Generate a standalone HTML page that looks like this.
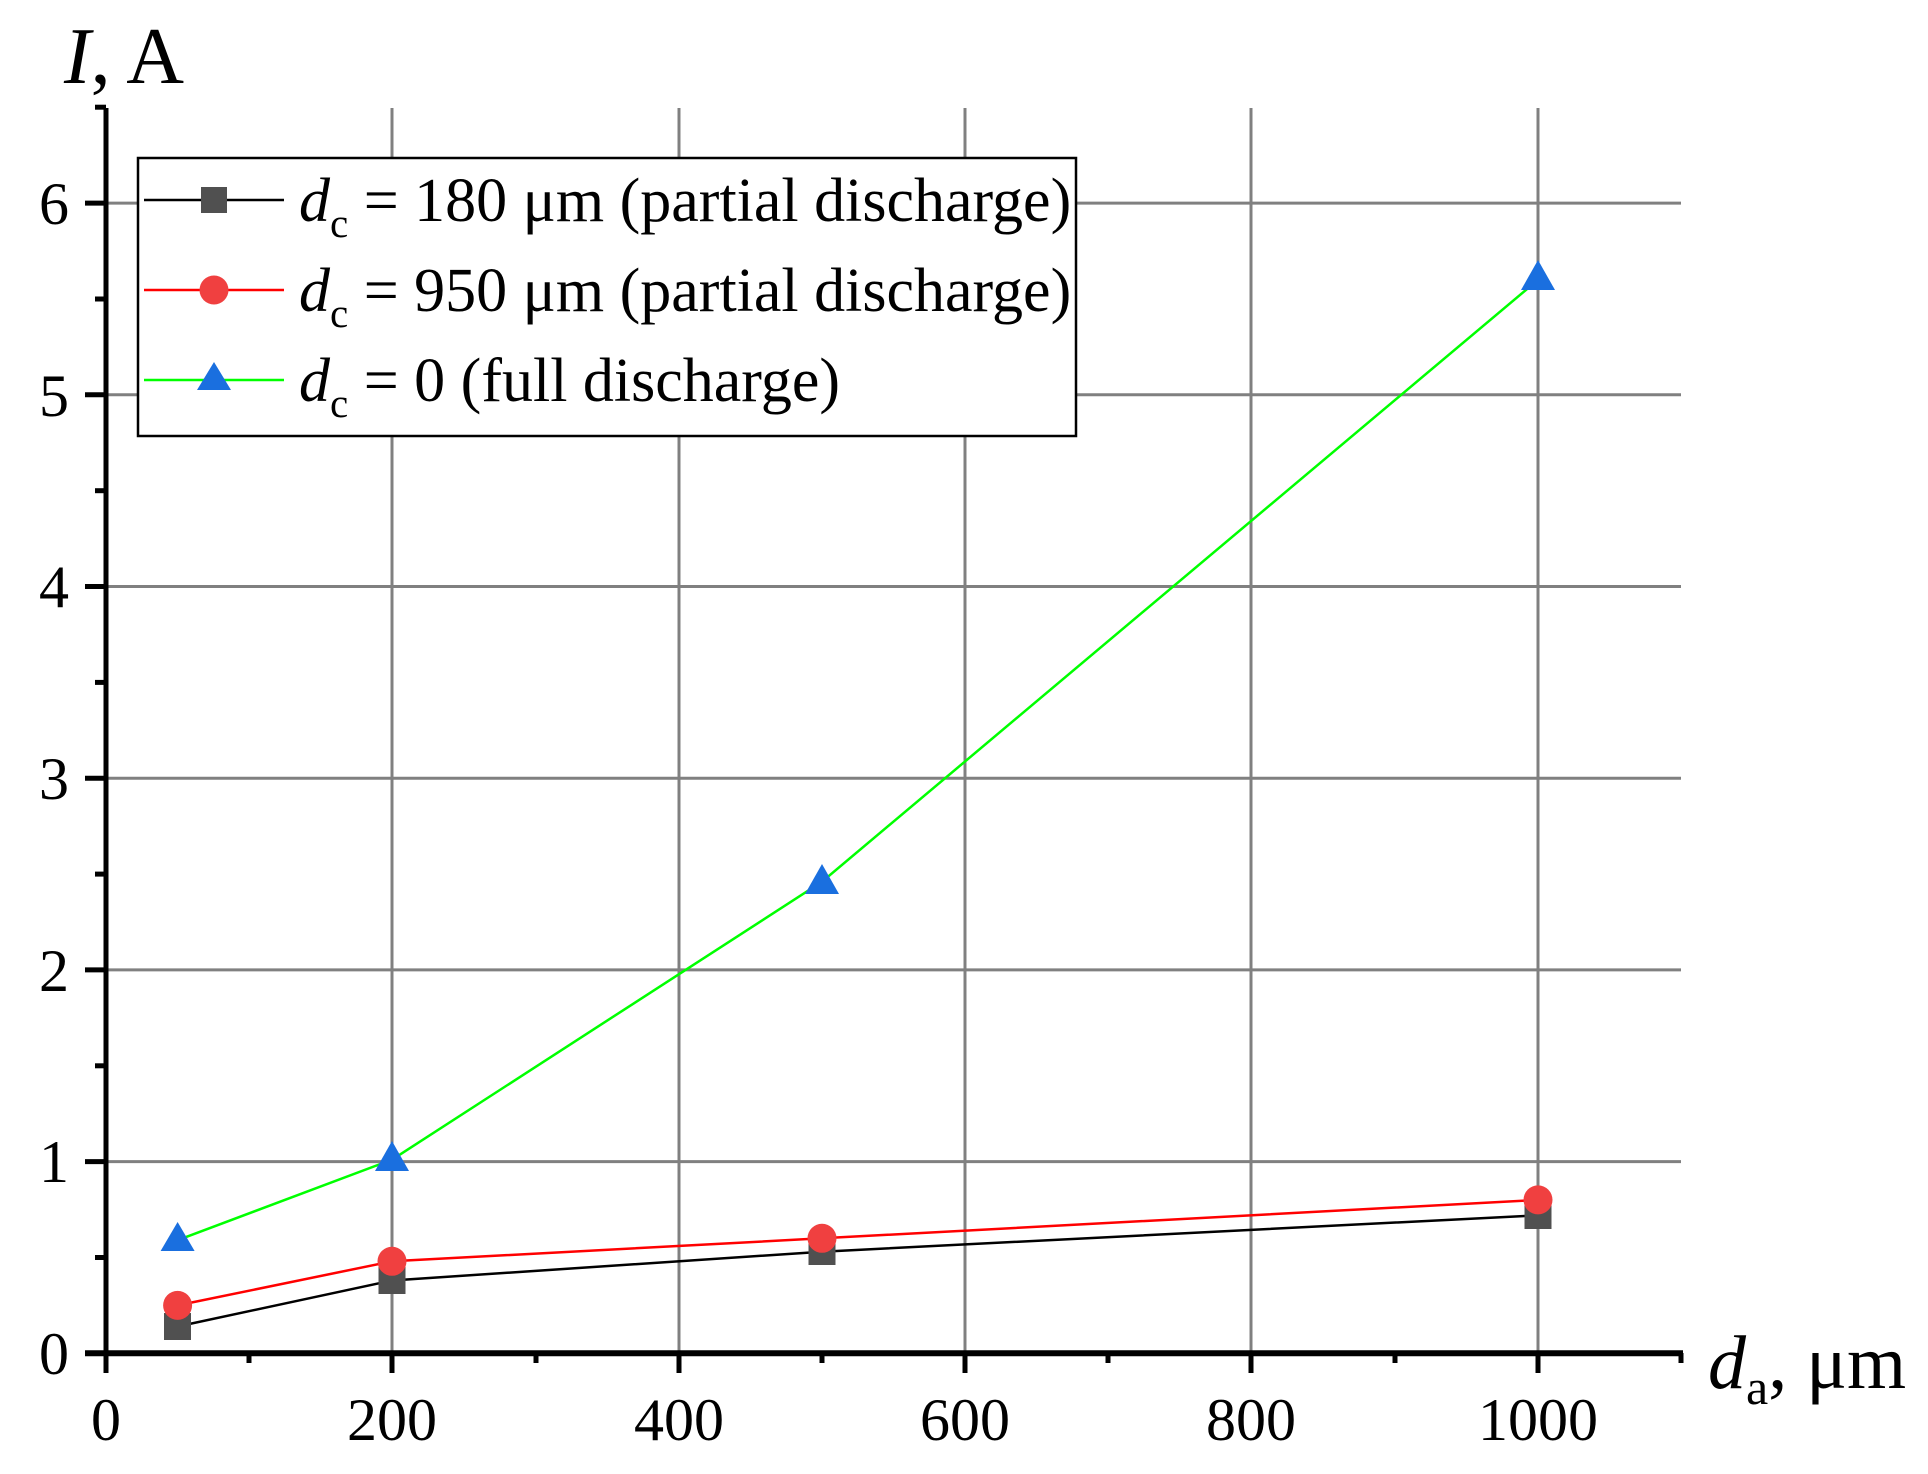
<!DOCTYPE html>
<html><head><meta charset="utf-8"><style>
html,body{margin:0;padding:0;background:#fff;}
svg{display:block;}
text{font-family:"Liberation Serif",serif;fill:#000;}
</style></head><body>
<svg width="1928" height="1474" viewBox="0 0 1928 1474" xmlns="http://www.w3.org/2000/svg">
<g stroke="#808080" stroke-width="3">
<line x1="392" y1="108" x2="392" y2="1353"/>
<line x1="679" y1="108" x2="679" y2="1353"/>
<line x1="965" y1="108" x2="965" y2="1353"/>
<line x1="1251" y1="108" x2="1251" y2="1353"/>
<line x1="1538" y1="108" x2="1538" y2="1353"/>
<line x1="106" y1="1161.6" x2="1681" y2="1161.6"/>
<line x1="106" y1="969.9" x2="1681" y2="969.9"/>
<line x1="106" y1="778.2" x2="1681" y2="778.2"/>
<line x1="106" y1="586.5" x2="1681" y2="586.5"/>
<line x1="106" y1="394.8" x2="1681" y2="394.8"/>
<line x1="106" y1="203.1" x2="1681" y2="203.1"/>
</g>
<g stroke="#000">
<line x1="106" y1="108" x2="106" y2="1355" stroke-width="5"/>
<line x1="85" y1="1353.3" x2="1683" y2="1353.3" stroke-width="6"/>
<g stroke-width="5">
<line x1="106" y1="1353" x2="106" y2="1373"/>
<line x1="392" y1="1353" x2="392" y2="1373"/>
<line x1="679" y1="1353" x2="679" y2="1373"/>
<line x1="965" y1="1353" x2="965" y2="1373"/>
<line x1="1251" y1="1353" x2="1251" y2="1373"/>
<line x1="1538" y1="1353" x2="1538" y2="1373"/>
<line x1="249" y1="1353" x2="249" y2="1363"/>
<line x1="536" y1="1353" x2="536" y2="1363"/>
<line x1="822" y1="1353" x2="822" y2="1363"/>
<line x1="1108" y1="1353" x2="1108" y2="1363"/>
<line x1="1395" y1="1353" x2="1395" y2="1363"/>
<line x1="1681" y1="1353" x2="1681" y2="1363"/>
<line x1="85" y1="1161.6" x2="106" y2="1161.6"/>
<line x1="85" y1="969.9" x2="106" y2="969.9"/>
<line x1="85" y1="778.2" x2="106" y2="778.2"/>
<line x1="85" y1="586.5" x2="106" y2="586.5"/>
<line x1="85" y1="394.8" x2="106" y2="394.8"/>
<line x1="85" y1="203.1" x2="106" y2="203.1"/>
<line x1="95" y1="1257.5" x2="106" y2="1257.5"/>
<line x1="95" y1="1065.8" x2="106" y2="1065.8"/>
<line x1="95" y1="874.1" x2="106" y2="874.1"/>
<line x1="95" y1="682.4" x2="106" y2="682.4"/>
<line x1="95" y1="490.7" x2="106" y2="490.7"/>
<line x1="95" y1="299" x2="106" y2="299"/>
<line x1="95" y1="107.2" x2="106" y2="107.2"/>
</g>
</g>
<g font-size="60" text-anchor="end">
<text x="69" y="1374">0</text>
<text x="69" y="1182">1</text>
<text x="69" y="991">2</text>
<text x="69" y="799">3</text>
<text x="69" y="607">4</text>
<text x="69" y="416">5</text>
<text x="69" y="224">6</text>
</g>
<g font-size="60" text-anchor="middle">
<text x="106" y="1440">0</text>
<text x="392" y="1440">200</text>
<text x="679" y="1440">400</text>
<text x="965" y="1440">600</text>
<text x="1251" y="1440">800</text>
<text x="1538" y="1440">1000</text>
</g>
<text x="64" y="83" font-size="80"><tspan font-style="italic">I</tspan>, A</text>
<text x="1708" y="1388" font-size="76"><tspan font-style="italic">d</tspan><tspan font-size="50" dy="16">a</tspan><tspan dy="-16">, μm</tspan></text>
<polyline points="177.6,1326.5 392,1280.5 822,1251.7 1538,1215.3" fill="none" stroke="#000" stroke-width="2.5"/>
<polyline points="177.6,1305.4 392,1261.3 822,1238.3 1538,1199.9" fill="none" stroke="#f00" stroke-width="2.5"/>
<polyline points="177.6,1240.2 392,1159.7 822,881.7 1538,279.8" fill="none" stroke="#00ff00" stroke-width="2.5"/>
<g fill="#505050">
<rect x="164" y="1313" width="27" height="27"/>
<rect x="378.5" y="1267" width="27" height="27"/>
<rect x="808.5" y="1238" width="27" height="27"/>
<rect x="1524.5" y="1202" width="27" height="27"/>
</g>
<g fill="#f04040">
<circle cx="177.6" cy="1305.4" r="14.5"/>
<circle cx="392" cy="1261.3" r="14.5"/>
<circle cx="822" cy="1238.3" r="14.5"/>
<circle cx="1538" cy="1199.9" r="14.5"/>
</g>
<g fill="#1a6fdf">
<polygon points="177.6,1222 160.6,1251 194.6,1251"/>
<polygon points="392,1141 375,1171 409,1171"/>
<polygon points="822,864 805,894 839,894"/>
<polygon points="1538,260 1521,290 1555,290"/>
</g>
<rect x="138" y="158" width="938" height="278" fill="#fff" stroke="#000" stroke-width="2.5"/>
<line x1="144" y1="200" x2="284" y2="200" stroke="#000" stroke-width="2.5"/>
<rect x="201" y="187" width="26" height="26" fill="#505050"/>
<line x1="144" y1="290" x2="284" y2="290" stroke="#f00" stroke-width="2.5"/>
<circle cx="214" cy="290" r="14.5" fill="#f04040"/>
<line x1="144" y1="380" x2="284" y2="380" stroke="#00ff00" stroke-width="2.5"/>
<polygon points="214,362 197,390 231,390" fill="#1a6fdf"/>
<g font-size="62">
<text x="299" y="221"><tspan font-style="italic">d</tspan><tspan font-size="41" dy="16">c</tspan><tspan dy="-16"> = 180 μm (partial discharge)</tspan></text>
<text x="299" y="311"><tspan font-style="italic">d</tspan><tspan font-size="41" dy="16">c</tspan><tspan dy="-16"> = 950 μm (partial discharge)</tspan></text>
<text x="299" y="401"><tspan font-style="italic">d</tspan><tspan font-size="41" dy="16">c</tspan><tspan dy="-16"> = 0 (full discharge)</tspan></text>
</g>
</svg>
</body></html>
